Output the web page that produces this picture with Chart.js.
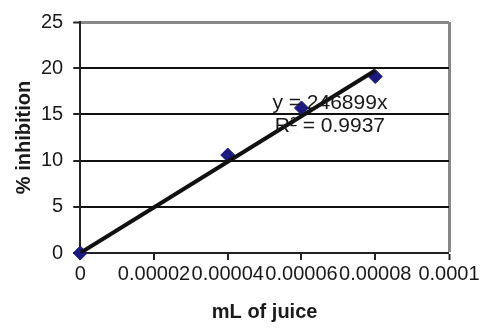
<!DOCTYPE html>
<html>
<head>
<meta charset="utf-8">
<script src="https://cdn.jsdelivr.net/npm/chart.js@4/dist/chart.umd.min.js"></script>
<style>
  html, body { margin: 0; padding: 0; background: #fff; overflow: hidden; }
  #wrap { width: 485px; height: 331px; }
</style>
</head>
<body>
<div id="wrap"><canvas id="chart" width="485" height="331"></canvas></div>
<script>
// measured points
const juiceML = [0, 0.00004, 0.00006, 0.00008];
const inhibition = [0, 10.6, 15.7, 19.1];

// linear fit through origin, drawn over the data range
const trendX = [0, 0.00008];
const trendY = [0, 19.75];

const xTicks = [0, 0.00002, 0.00004, 0.00006, 0.00008, 0.0001];
const xTickLabels = ['0', '0.00002', '0.00004', '0.00006', '0.00008', '0.0001'];
const yTicks = [0, 5, 10, 15, 20, 25];

const fitText = ['y = 246899x', 'R\u00b2 = 0.9937'];

const FONT = "'Liberation Sans', Arial, sans-serif";

const fitLabel = {
  id: 'fitLabel',
  afterDatasetsDraw(chart) {
    const { ctx, scales } = chart;
    const x = scales.x.getPixelForValue(0.0000677);
    ctx.save();
    ctx.font = '21px ' + FONT;
    ctx.fillStyle = '#1a1a1a';
    ctx.textAlign = 'center';
    ctx.textBaseline = 'alphabetic';
    ctx.fillText(fitText[0], x, scales.y.getPixelForValue(15.6));
    ctx.fillText(fitText[1], x, scales.y.getPixelForValue(13.1));
    ctx.restore();
  }
};

new Chart(document.getElementById('chart'), {
  type: 'scatter',
  data: {
    datasets: [
      {
        label: 'data',
        data: juiceML.map((x, i) => ({ x, y: inhibition[i] })),
        pointStyle: 'rectRot',
        pointRadius: 7,
        pointHoverRadius: 7,
        backgroundColor: '#1a1a80',
        borderColor: '#1a1a80',
        clip: false,
        order: 2
      },
      {
        type: 'line',
        label: 'fit',
        data: trendX.map((x, i) => ({ x, y: trendY[i] })),
        borderColor: '#111',
        borderWidth: 4,
        pointRadius: 0,
        fill: false,
        order: 1
      }
    ]
  },
  options: {
    responsive: false,
    animation: false,
    layout: { padding: { left: 0, right: 36, top: 22, bottom: 4 } },
    plugins: {
      legend: { display: false },
      tooltip: { enabled: false }
    },
    scales: {
      x: {
        type: 'linear',
        min: 0,
        max: 0.0001,
        afterBuildTicks: axis => { axis.ticks = xTicks.map(v => ({ value: v })); },
        ticks: {
          callback: (v, i) => xTickLabels[i],
          font: { family: FONT, size: 20 },
          color: '#1a1a1a',
          maxRotation: 0,
          autoSkip: false,
          padding: 2
        },
        grid: {
          color: ctx => ctx.tick && ctx.tick.value === 0.0001 ? '#888' : 'rgba(0,0,0,0)',
          lineWidth: ctx => ctx.tick && ctx.tick.value === 0.0001 ? 3 : 0,
          tickColor: '#222',
          tickLength: 7,
          tickWidth: 2
        },
        border: { color: '#222', width: 2 },
        title: {
          display: true,
          text: 'mL of juice',
          font: { family: FONT, size: 20, weight: 'bold' },
          color: '#1a1a1a',
          padding: { top: 12, bottom: 3 }
        }
      },
      y: {
        min: 0,
        max: 25,
        afterBuildTicks: axis => { axis.ticks = yTicks.map(v => ({ value: v })); },
        ticks: {
          font: { family: FONT, size: 20 },
          color: '#1a1a1a',
          padding: 10
        },
        grid: {
          color: ctx => ctx.tick && ctx.tick.value === 25 ? '#888' : '#111',
          lineWidth: ctx => ctx.tick && ctx.tick.value === 25 ? 3 : 2,
          tickColor: '#222',
          tickLength: 7,
          tickWidth: 2
        },
        border: { color: '#222', width: 2 },
        title: {
          display: true,
          text: '% inhibition',
          font: { family: FONT, size: 20, weight: 'bold' },
          color: '#1a1a1a',
          padding: { top: 12, bottom: -5 }
        }
      }
    }
  },
  plugins: [fitLabel]
});
</script>
</body>
</html>
